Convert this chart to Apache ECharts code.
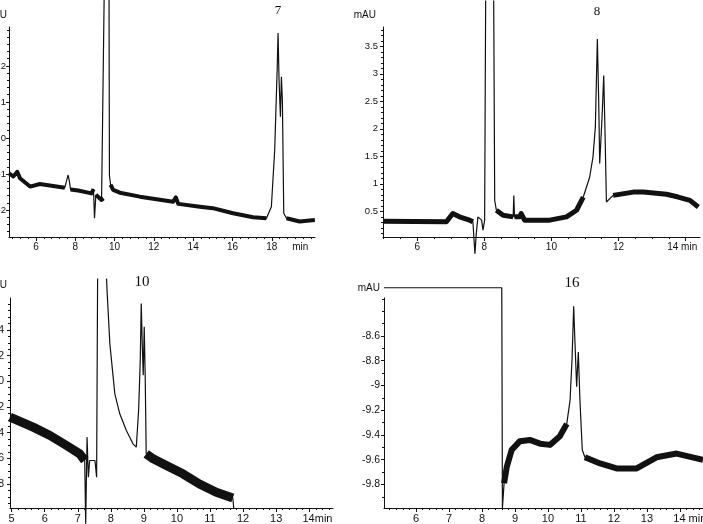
<!DOCTYPE html>
<html>
<head>
<meta charset="utf-8">
<script src="https://cdn.jsdelivr.net/npm/echarts@6/dist/echarts.min.js"></script>
<style>
html, body { margin: 0; padding: 0; background: #fff; }
#chart { width: 703px; height: 524px; }
</style>
</head>
<body>
<div id="chart"></div>
<script>
// chromatogram 7 (top left), [min, mAU]; null = trace leaves the picture
var trace7 = [[4.63, -0.98], [4.85, -1.07], [5.05, -0.94], [5.19, -1.12], [5.7, -1.35], [6.2, -1.28],
    [7.47, -1.38], [7.6, -1.1], [7.64, -1.03], [7.7, -1.2], [7.76, -1.43], [8.15, -1.46], [8.83, -1.54],
    [8.93, -1.42], [8.95, -1.40], [8.98, -2.23], [9.05, -1.58], [9.34, -1.72], [9.44, -1.68],
    [9.47, 3.85], [9.6, null], [9.72, 3.85], [9.74, -1.05], [9.8, -1.3], [9.93, -1.44], [10.27, -1.52],
    [11.29, -1.63], [12.98, -1.77], [13.05, -1.72], [13.12, -1.65], [13.24, -1.83], [14.34, -1.91],
    [15.0, -1.95], [16.03, -2.09], [17.05, -2.20], [17.73, -2.23], [17.98, -1.91], [18.15, -0.33],
    [18.28, 2.0], [18.32, 2.91], [18.37, 1.61], [18.44, 0.59], [18.49, 1.70], [18.54, 1.06],
    [18.61, -2.09], [18.75, -2.23], [19.42, -2.32], [20.19, -2.28]];
var noisy7 = [[4.63, 7.47], [7.76, 8.93], [9.05, 9.44], [9.8, 17.9], [18.62, 20.2]];
var xTicks7 = [6, 8, 10, 12, 14, 16, 18];
var xLabelPos7 = [6, 8, 10, 12, 14, 16, 18, 19.45];
var xLabelText7 = ['6', '8', '10', '12', '14', '16', '18', 'min'];
var yTicks7 = [-2, -1, 0, 1, 2];

// chromatogram 8 (top right)
var trace8 = [[4.98, 0.32], [6.87, 0.31], [7.06, 0.46], [7.11, 0.49], [7.26, 0.40], [7.56, 0.34],
    [7.66, 0.31], [7.72, -0.27], [7.76, 0.09], [7.81, 0.40], [7.92, 0.34], [7.96, 0.16], [8.01, 0.34],
    [8.04, 4.33], [8.15, null], [8.28, 4.33], [8.31, 0.70], [8.36, 0.52], [8.56, 0.43], [8.86, 0.40],
    [8.88, 0.79], [8.9, 0.40], [9.05, 0.40], [9.1, 0.46], [9.2, 0.34], [9.95, 0.34], [10.45, 0.40],
    [10.75, 0.52], [10.95, 0.76], [11.14, 1.12], [11.24, 1.49], [11.31, 2.03], [11.37, 3.63],
    [11.41, 2.51], [11.44, 1.37], [11.51, 2.21], [11.56, 2.97], [11.6, 1.91], [11.64, 0.67],
    [11.84, 0.79], [12.44, 0.85], [12.74, 0.85], [13.43, 0.81], [13.78, 0.76], [14.13, 0.70], [14.38, 0.58]];
var noisy8 = [[4.98, 7.66], [8.33, 8.86], [8.9, 11.0], [11.65, 14.43]];
var xTicks8 = [6, 8, 10, 12, 14];
var xLabelPos8 = [6, 8, 10, 12, 13.9];
var xLabelText8 = ['6', '8', '10', '12', '14 min'];
var yTicks8 = [0.5, 1, 1.5, 2, 2.5, 3, 3.5];

// chromatogram 10 (bottom left)
var trace10 = [[4.95, -2.79], [5.65, -3.57], [6.16, -4.22], [6.66, -5.0], [7.06, -5.65], [7.21, -6.17],
    [7.24, -11.1], [7.28, -4.35], [7.32, -7.47], [7.36, -6.17], [7.52, -6.17], [7.57, -7.47],
    [7.6, 8.0], [7.75, null], [7.87, 8.0], [7.89, 6.85], [7.97, 2.94], [8.12, -0.96], [8.27, -2.53],
    [8.47, -3.83], [8.67, -4.87], [8.77, -5.13], [8.84, -2.27], [8.89, 1.64], [8.92, 6.07], [8.95, 2.94],
    [8.98, 0.47], [9.01, 4.24], [9.04, 0.34], [9.07, -5.65], [9.28, -6.04], [9.68, -6.56], [10.18, -7.21],
    [10.68, -8.0], [11.19, -8.65], [11.69, -9.09], [11.72, -9.95]];
var noisy10 = [[4.95, 7.21], [9.07, 11.7]];
var xTicks10 = [5, 6, 7, 8, 9, 10, 11, 12, 13, 14];
var xLabelPos10 = [5, 6, 7, 8, 9, 10, 11, 12, 13, 14.25];
var xLabelText10 = ['5', '6', '7', '8', '9', '10', '11', '12', '13', '14min'];
var yTicks10 = [-8, -6, -4, -2, 0, 2, 4];

// chromatogram 16 (bottom right)
var trace16 = [[5.03, -8.21], [8.6, -8.21], [8.62, -9.99], [8.67, -9.79], [8.75, -9.66], [8.9, -9.52],
    [9.15, -9.45], [9.45, -9.44], [9.76, -9.47], [10.06, -9.48], [10.36, -9.41], [10.57, -9.31],
    [10.67, -9.12], [10.73, -8.79], [10.78, -8.36], [10.82, -8.66], [10.87, -9.01], [10.92, -8.73],
    [10.97, -9.12], [11.04, -9.52], [11.12, -9.58], [11.58, -9.63], [12.08, -9.67], [12.69, -9.67],
    [13.29, -9.58], [13.9, -9.55], [14.7, -9.60]];
var noisy16 = [[8.66, 10.62], [11.06, 14.7]];
var xTicks16 = [6, 7, 8, 9, 10, 11, 12, 13, 14];
var xLabelPos16 = [6, 7, 8, 9, 10, 11, 12, 13, 14.3];
var xLabelText16 = ['6', '7', '8', '9', '10', '11', '12', '13', '14 min'];
var yTicks16 = [-9.8, -9.6, -9.4, -9.2, -9, -8.8, -8.6];

var panels = [
    {name: '7', trace: trace7, noisy: noisy7, band: 4, grid: {left: 9, top: 27, width: 306, height: 210},
        x: [4.63, 20.2], y: [-2.75, 3.08], xTicks: xTicks7, xMinor: 0.4, xPos: xLabelPos7, xText: xLabelText7,
        yTicks: yTicks7, yMinor: 0.2, font: 10, yMargin: 3},
    {name: '8', trace: trace8, noisy: noisy8, band: 5, grid: {left: 383, top: 27, width: 317, height: 210},
        x: [4.98, 14.43], y: [0.034, 3.85], xTicks: xTicks8, xMinor: 0.5, xPos: xLabelPos8, xText: xLabelText8,
        yTicks: yTicks8, yMinor: 0.1, font: 10, yMargin: 5},
    {name: '10', trace: trace10, noisy: noisy10, band: 9, grid: {left: 10, top: 298, width: 323, height: 210},
        x: [4.95, 14.72], y: [-9.87, 6.49], xTicks: xTicks10, xMinor: 0.2, xPos: xLabelPos10, xText: xLabelText10,
        yTicks: yTicks10, yMinor: 0.5, font: 11, yMargin: 6},
    {name: '16', trace: trace16, noisy: noisy16, band: 6, grid: {left: 384, top: 298, width: 319, height: 210},
        x: [5.03, 14.7], y: [-9.99, -8.293], xTicks: xTicks16, xMinor: 0.2, xPos: xLabelPos16, xText: xLabelText16,
        yTicks: yTicks16, yMinor: 0.1, font: 11, yMargin: 4}
];

const steps = function (lo, hi, step) {
    var out = [];
    for (var k = Math.ceil(lo / step - 1e-9); k * step <= hi + 1e-9; k++) {
        out.push(+(k * step).toFixed(4));
    }
    return out;
};
const asLine = function (pts) {
    return pts.map(p => p[1] === null ? [p[0], '-'] : p);
};
// only the noisy stretches of a trace, broken between the ranges
const noisyPart = function (pts, ranges) {
    var out = [];
    ranges.forEach(function (r, i) {
        if (i > 0)
            out.push([r[0], '-']);
        pts.forEach(function (p) {
            if (p[1] !== null && p[0] >= r[0] && p[0] <= r[1])
                out.push(p);
        });
    });
    return out;
};

var font = 'Liberation Sans, Arial, sans-serif';
var ink = '#111';
var option = {animation: false, grid: [], xAxis: [], yAxis: [], series: [], graphic: []};

panels.forEach(function (p, i) {
    option.grid.push(Object.assign({outerBoundsMode: 'none', containLabel: false}, p.grid));
    var xBase = {type: 'value', gridIndex: i, min: p.x[0], max: p.x[1], position: 'bottom', splitLine: {show: false}};
    var yBase = {type: 'value', gridIndex: i, min: p.y[0], max: p.y[1], position: 'left', splitLine: {show: false}};
    option.xAxis.push(Object.assign({}, xBase, {
        axisLine: {show: true, onZero: false, lineStyle: {color: ink, width: 1}},
        axisTick: {show: true, length: 4, customValues: p.xTicks, lineStyle: {color: ink}},
        axisLabel: {
            show: true, customValues: p.xPos, margin: 5, color: ink, fontFamily: font, fontSize: p.font,
            formatter: v => p.xText[p.xPos.indexOf(v)] || ''
        }
    }));
    option.xAxis.push(Object.assign({}, xBase, {
        axisLine: {show: false, onZero: false},
        axisTick: {show: true, length: 2, customValues: steps(p.x[0], p.x[1], p.xMinor), lineStyle: {color: ink}},
        axisLabel: {show: false}
    }));
    option.yAxis.push(Object.assign({}, yBase, {
        axisLine: {show: true, onZero: false, lineStyle: {color: ink, width: 1}},
        axisTick: {show: true, length: 3, customValues: p.yTicks, lineStyle: {color: ink}},
        axisLabel: {
            show: true, customValues: p.yTicks, margin: p.yMargin, color: ink, fontFamily: font,
            fontSize: p.font - 0.5, formatter: v => String(+v.toFixed(2))
        }
    }));
    option.yAxis.push(Object.assign({}, yBase, {
        axisLine: {show: false, onZero: false},
        axisTick: {show: true, length: 2, customValues: steps(p.y[0], p.y[1], p.yMinor), lineStyle: {color: ink}},
        axisLabel: {show: false}
    }));
    option.series.push({
        type: 'line', xAxisIndex: i * 2, yAxisIndex: i * 2, data: asLine(p.trace),
        showSymbol: false, symbol: 'none', clip: false, connectNulls: false,
        lineStyle: {color: ink, width: 1.2}
    });
    option.series.push({
        type: 'line', xAxisIndex: i * 2, yAxisIndex: i * 2, data: noisyPart(p.trace, p.noisy),
        showSymbol: false, symbol: 'none', clip: false, connectNulls: false,
        lineStyle: {color: ink, width: p.band, cap: 'butt', join: 'round'}
    });
});

// panel numbers and unit captions
var titles = [
    {text: '7', x: 278, y: 11, size: 13},
    {text: '8', x: 597, y: 12, size: 13},
    {text: '10', x: 142, y: 282, size: 15},
    {text: '16', x: 572, y: 283, size: 15}
];
titles.forEach(function (t) {
    option.graphic.push({type: 'text', x: t.x, y: t.y, style: {
        text: t.text, fill: ink, font: t.size + 'px "Liberation Serif", "Times New Roman", serif',
        textAlign: 'center', textVerticalAlign: 'middle'}});
});
var units = [{x: 7, y: 15}, {x: 376, y: 15}, {x: 7, y: 285}, {x: 380, y: 288}];
units.forEach(function (u) {
    option.graphic.push({type: 'text', x: u.x, y: u.y, style: {
        text: 'mAU', fill: ink, font: '10px ' + font, textAlign: 'right', textVerticalAlign: 'middle'}});
});

var chart = echarts.init(document.getElementById('chart'));
chart.setOption(option);
</script>
</body>
</html>
